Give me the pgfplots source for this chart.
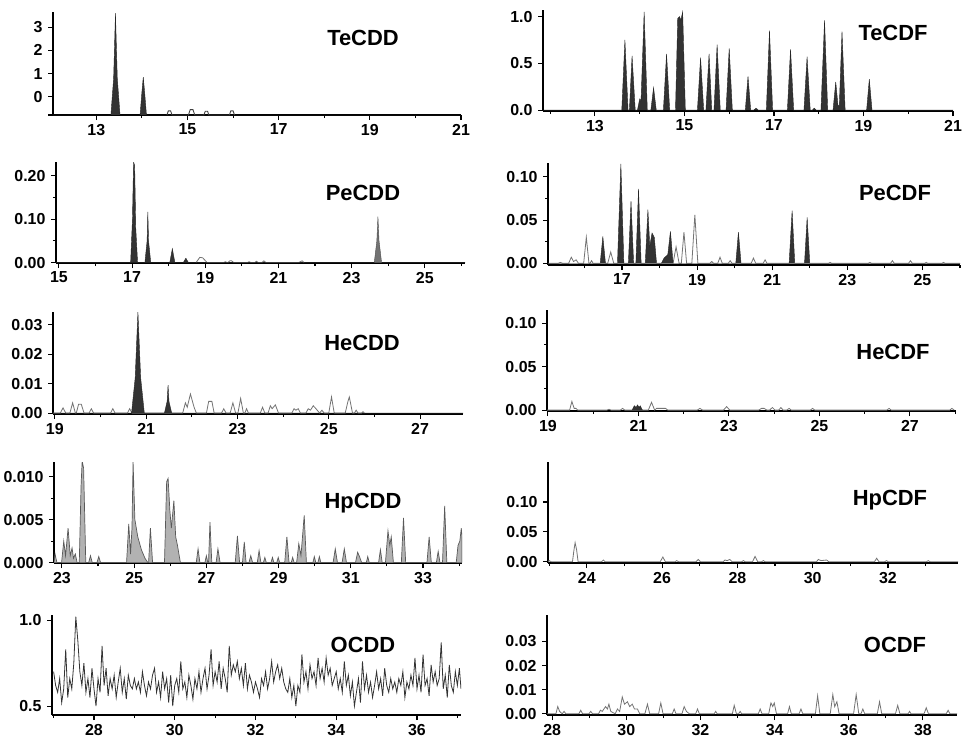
\documentclass[border=0pt]{standalone}
\usepackage{fontspec}
\setmainfont{Liberation Sans}
\usepackage{pgfplots}
\pgfplotsset{compat=1.18}

\pgfplotsset{
  panel/.style={
    scale only axis, anchor=south west,
    axis x line*=bottom, axis y line*=left,
    axis line style={line width=1.3bp, -},
    tick align=outside,
    major tick length=5bp, minor tick length=3bp,
    every tick/.style={line width=1.1bp, black},
    tick label style={font=\fontsize{16}{16}\selectfont\bfseries},
    xticklabel style={yshift=-0.5bp},
    yticklabel style={xshift=-2bp},
    scaled y ticks=false, scaled x ticks=false,
    clip=true,
  },
  dk/.style={draw=black!85, fill=black!80, line width=0.4bp},
  gr/.style={draw=black!55, line width=0.8bp},
}
\tikzset{ttl/.style={font=\fontsize{22}{22}\selectfont\bfseries}}

\begin{document}
\begin{tikzpicture}
\path[use as bounding box] (0,0) rectangle (963bp,-741bp);

% ---------- TeCDD ----------
\begin{axis}[panel, at={(53bp,-115bp)}, width=408bp, height=103bp,
  xmin=12.05, xmax=21, ymin=-0.78, ymax=3.65,
  xtick={13,15,17,19,21}, xticklabels={13,15,17,19,21}, minor xtick={14,16,18,20},
  ytick={-0.78,0,1,2,3}, yticklabels={,0,1,2,3}]
\addplot[dk] coordinates {(12.05,-0.78)(13.32,-0.78)(13.38,0.8)(13.42,3.6)(13.46,0.8)(13.52,-0.78)
  (13.96,-0.78)(14.0,0.2)(14.03,0.85)(14.06,0.2)(14.1,-0.78)(21,-0.78)};
\addplot[draw=black!75, line width=0.9bp] coordinates {(14.55,-0.78)(14.58,-0.6)(14.63,-0.6)(14.66,-0.78)
  (15.02,-0.78)(15.06,-0.55)(15.12,-0.55)(15.16,-0.78)(15.36,-0.78)(15.39,-0.62)(15.44,-0.62)(15.47,-0.78)
  (15.92,-0.78)(15.95,-0.6)(16.0,-0.6)(16.03,-0.78)};
\end{axis}
\node[ttl] at (363bp,-38bp) {TeCDD};

% ---------- TeCDF ----------
\begin{axis}[panel, at={(543bp,-111bp)}, width=410bp, height=101bp,
  xmin=11.84, xmax=21, ymin=-0.01, ymax=1.07,
  xtick={13,15,17,19,21}, xticklabels={13,15,17,19,21}, minor xtick={12,14,16,18,20},
  ytick={0,0.5,1}, yticklabels={0.0,0.5,1.0}]
\addplot[dk] coordinates {(11.84,0)(13.60,0)(13.67,0.75)(13.74,0)(13.77,0)(13.83,0.58)(13.9,0)(13.95,0)
  (14.0,0.12)(14.03,0.1)(14.1,1.05)(14.17,0)(14.25,0)(14.31,0.24)(14.37,0)(14.53,0)(14.6,0.6)(14.67,0)
  (14.8,0)(14.85,0.98)(14.89,1.0)(14.92,0.96)(14.96,1.05)(15.02,0)(15.29,0)(15.36,0.56)(15.43,0)
  (15.48,0)(15.55,0.6)(15.61,0)(15.66,0)(15.73,0.7)(15.8,0)(15.93,0)(16.0,0.66)(16.07,0)(16.36,0)
  (16.42,0.36)(16.48,0)(16.55,0)(16.6,0.02)(16.65,0)(16.83,0)(16.9,0.85)(16.97,0)(17.3,0)(17.37,0.65)
  (17.44,0)(17.67,0)(17.74,0.57)(17.81,0)(17.86,0)(17.9,0.02)(17.94,0)(18.05,0)(18.13,0.96)(18.2,0)
  (18.32,0)(18.38,0.3)(18.43,0.05)(18.46,0.05)(18.52,0.84)(18.59,0)(19.07,0)(19.13,0.33)(19.19,0)(21,0)};
\end{axis}
\node[ttl] at (893bp,-33bp) {TeCDF};

% ---------- PeCDD ----------
\begin{axis}[panel, at={(56bp,-263bp)}, width=409bp, height=101bp,
  xmin=14.92, xmax=26.1, ymin=-0.001, ymax=0.232,
  xtick={15,17,19,21,23,25}, xticklabels={15,17,19,21,23,25}, minor xtick={16,18,20,22,24,26},
  ytick={0,0.1,0.2}, yticklabels={0.00,0.10,0.20}, minor ytick={0.05,0.15}]
\addplot[gr] coordinates {(18.75,0)(18.85,0.012)(18.93,0.011)(19.05,0)(19.5,0)(19.55,0.002)(19.6,0)
  (19.62,0)(19.67,0.004)(19.72,0.004)(19.78,0)(20.15,0)(20.2,0.002)(20.25,0)(20.35,0)(20.4,0.003)
  (20.45,0)(20.55,0)(20.6,0.004)(20.66,0)(21.55,0)(21.6,0.002)(21.65,0.004)(21.7,0)};
\addplot[dk] coordinates {(14.92,0)(16.96,0)(17.01,0.1)(17.04,0.232)(17.07,0.224)(17.1,0.08)(17.15,0)
  (17.35,0)(17.41,0.05)(17.43,0.117)(17.45,0.05)(17.51,0)(18.03,0)(18.1,0.032)(18.17,0)
  (18.4,0)(18.47,0.01)(18.54,0)(26.1,0)};
\addplot[draw=black!70, fill=black!55, line width=0.4bp] coordinates {(23.62,0)(23.69,0.05)(23.72,0.106)(23.75,0.05)(23.82,0)};
\end{axis}
\node[ttl] at (363bp,-193bp) {PeCDD};

% ---------- PeCDF ----------
\begin{axis}[panel, at={(548bp,-265bp)}, width=412bp, height=102bp,
  xmin=15.03, xmax=26.0, ymin=-0.002, ymax=0.116,
  xtick={17,19,21,23,25}, xticklabels={17,19,21,23,25}, minor xtick={16,18,20,22,24,26},
  ytick={0,0.05,0.1}, yticklabels={0.00,0.05,0.10}, minor ytick={0.025,0.075}]
\addplot[gr] coordinates {(15.03,0)(15.3,0)(15.36,0.001)(15.42,0)(15.58,0)(15.65,0.007)(15.71,0.002)
  (15.78,0.004)(15.84,0)(15.98,0)(16.05,0.03)(16.12,0)(16.15,0)(16.19,0.003)(16.23,0)(16.62,0)
  (16.7,0.013)(16.78,0)(18.36,0)(18.44,0.019)(18.52,0)(18.58,0)(18.65,0.036)(18.72,0)(18.86,0)
  (18.94,0.056)(19.02,0)(19.34,0)(19.39,0.002)(19.44,0)(19.55,0)(19.61,0.007)(19.67,0)(19.83,0)
  (19.88,0.003)(19.93,0)(20.44,0)(20.5,0.006)(20.56,0)(20.76,0)(20.81,0.004)(20.86,0)(22.5,0)
  (22.54,0.001)(22.58,0)(23.56,0)(23.6,0.001)(23.64,0)(24.15,0)(24.2,0.003)(24.25,0)(24.63,0)
  (24.68,0.003)(24.73,0)(25.06,0)(25.1,0.001)(25.14,0)(25.52,0)(25.56,0.001)(25.6,0)(26,0)};
\addplot[dk] coordinates {(15.03,0)(16.42,0)(16.49,0.031)(16.56,0)(16.88,0)(16.97,0.115)(17.05,0)
  (17.17,0)(17.24,0.072)(17.31,0)(17.37,0)(17.44,0.086)(17.51,0)(17.62,0)(17.69,0.062)(17.74,0.02)
  (17.8,0.035)(17.86,0.03)(17.92,0)(18.05,0)(18.12,0.006)(18.17,0.008)(18.22,0.01)(18.29,0.037)
  (18.36,0)(20.03,0)(20.1,0.036)(20.17,0)(21.45,0)(21.53,0.061)(21.6,0)(21.86,0)(21.93,0.053)
  (22.0,0)(26,0)};
\end{axis}
\node[ttl] at (895bp,-193bp) {PeCDF};

% ---------- HeCDD ----------
\begin{axis}[panel, at={(53bp,-414bp)}, width=410bp, height=102bp,
  xmin=18.96, xmax=27.94, ymin=-0.0003, ymax=0.0344,
  xtick={19,21,23,25,27}, xticklabels={19,21,23,25,27}, minor xtick={20,22,24,26},
  ytick={0,0.01,0.02,0.03}, yticklabels={0.00,0.01,0.02,0.03}]
\addplot[gr] coordinates {(18.96,0)(19.12,0)(19.18,0.0018)(19.24,0)(19.33,0)(19.39,0.0035)(19.45,0)
  (19.47,0)(19.52,0.003)(19.58,0.003)(19.64,0)(19.75,0)(19.8,0.0015)(19.85,0)(20.22,0)(20.27,0.0015)
  (20.32,0)(20.59,0)(20.64,0.0015)(20.69,0)(21.8,0)(21.86,0.0035)(21.9,0.002)(21.97,0.0065)(22.05,0.002)
  (22.1,0)(22.32,0)(22.37,0.004)(22.44,0.004)(22.49,0)(22.65,0)(22.7,0.0015)(22.75,0)(22.84,0)
  (22.9,0.0035)(22.96,0)(23.01,0)(23.07,0.005)(23.13,0)(23.16,0)(23.2,0.0015)(23.24,0)(23.5,0)
  (23.55,0.002)(23.6,0)(23.67,0)(23.72,0.0025)(23.76,0.0015)(23.83,0.0028)(23.9,0)(24.19,0)
  (24.24,0.0015)(24.28,0.001)(24.33,0.0015)(24.38,0)(24.5,0)(24.55,0.0015)(24.6,0.001)(24.66,0.0025)
  (24.72,0.0015)(24.8,0)(24.85,0.001)(24.9,0)(25.0,0)(25.06,0.0055)(25.12,0)(25.36,0)(25.42,0.004)
  (25.45,0.0055)(25.52,0)(25.56,0)(25.6,0.001)(25.64,0)(25.72,0)(25.75,0.0005)(25.78,0)};
\addplot[dk] coordinates {(18.96,0)(20.68,0)(20.76,0.012)(20.82,0.0344)(20.88,0.012)(20.96,0)
  (21.4,0)(21.46,0.004)(21.48,0.0095)(21.5,0.004)(21.56,0)(27.94,0)};
\end{axis}
\node[ttl] at (362bp,-343bp) {HeCDD};

% ---------- HeCDF ----------
\begin{axis}[panel, at={(547bp,-411bp)}, width=409bp, height=101bp,
  xmin=18.98, xmax=28.02, ymin=-0.001, ymax=0.115,
  xtick={19,21,23,25,27}, xticklabels={19,21,23,25,27}, minor xtick={20,22,24,26,28},
  ytick={0,0.05,0.1}, yticklabels={0.00,0.05,0.10}, minor ytick={0.025,0.075}]
\addplot[gr] coordinates {(18.98,0)(19.48,0)(19.53,0.01)(19.58,0.002)(19.62,0.002)(19.66,0)(20.3,0)
  (20.35,0.001)(20.4,0)(20.6,0)(20.65,0.002)(20.7,0)(21.22,0)(21.29,0.009)(21.36,0)(21.4,0.002)
  (21.6,0.002)(21.65,0)(22.3,0)(22.36,0.002)(22.42,0)(22.88,0)(22.95,0.004)(23.02,0)(23.66,0)
  (23.72,0.002)(23.78,0.002)(23.84,0)(23.9,0)(23.96,0.003)(24.02,0)(24.1,0)(24.15,0.003)(24.2,0)
  (24.28,0)(24.33,0.002)(24.38,0)(24.8,0)(24.85,0.002)(24.9,0)(26.49,0)(26.54,0.002)(26.59,0)
  (27.88,0)(27.93,0.002)(27.98,0)};
\addplot[dk] coordinates {(20.86,0)(20.91,0.005)(20.95,0.003)(20.98,0.006)(21.02,0.003)(21.04,0.005)(21.09,0)};
\end{axis}
\node[ttl] at (893bp,-352bp) {HeCDF};

% ---------- HpCDD ----------
\begin{axis}[panel, at={(54bp,-563bp)}, width=408bp, height=101bp,
  xmin=22.78, xmax=34.08, ymin=-0.00005, ymax=0.0117,
  xtick={23,25,27,29,31,33}, xticklabels={23,25,27,29,31,33}, minor xtick={24,26,28,30,32,34},
  ytick={0,0.005,0.01}, yticklabels={0.000,0.005,0.010}, minor ytick={0.0025,0.0075}]
\addplot[draw=black!65, fill=black!30, line width=0.7bp] coordinates {(22.78,0)(22.81,0.001)(22.86,0)
  (22.99,0)(23.05,0.0025)(23.1,0.0008)(23.17,0.004)(23.23,0.0008)(23.28,0.0017)(23.32,0.0005)
  (23.37,0.001)(23.42,0)(23.48,0)(23.53,0.009)(23.56,0.0118)(23.6,0.011)(23.66,0)(23.74,0)
  (23.79,0.0008)(23.84,0)(23.97,0)(24.02,0.0007)(24.07,0)(24.79,0)(24.85,0.0045)(24.9,0.001)
  (24.94,0.004)(24.97,0.0117)(25.02,0.005)(25.1,0.003)(25.2,0.0015)(25.3,0.0005)(25.38,0)(25.4,0)
  (25.45,0.004)(25.51,0)(25.84,0)(25.9,0.0094)(25.94,0.0098)(25.99,0.006)(26.03,0.004)(26.1,0.0072)
  (26.15,0.003)(26.2,0.002)(26.28,0)(26.72,0)(26.77,0.0016)(26.82,0)(26.96,0)(27.0,0.0008)(27.04,0)
  (27.06,0)(27.1,0.0047)(27.15,0)(27.27,0)(27.32,0.0016)(27.38,0)(27.8,0)(27.86,0.0031)(27.92,0)
  (28.0,0)(28.05,0.0024)(28.1,0)(28.18,0)(28.23,0.0008)(28.28,0)(28.41,0)(28.46,0.0014)(28.51,0)
  (28.58,0)(28.62,0.0006)(28.66,0)(28.79,0)(28.83,0.0006)(28.87,0)(28.95,0)(28.99,0.0006)(29.03,0)
  (29.17,0)(29.23,0.003)(29.29,0)(29.35,0)(29.39,0.0006)(29.43,0)(29.5,0)(29.56,0.0022)(29.62,0.0008)
  (29.71,0.0055)(29.77,0)(29.95,0)(29.99,0.0007)(30.03,0)(30.09,0)(30.13,0.0007)(30.17,0)(30.51,0)
  (30.57,0.0016)(30.63,0)(30.76,0)(30.82,0.0016)(30.88,0)(31.13,0)(31.19,0.0012)(31.25,0.0006)
  (31.3,0)(31.43,0)(31.47,0.0007)(31.51,0)(31.77,0)(31.82,0.0015)(31.87,0)(31.96,0)(32.03,0.0037)
  (32.08,0.002)(32.12,0.003)(32.18,0)(32.4,0)(32.46,0.0052)(32.52,0)(33.11,0)(33.17,0.003)(33.23,0)
  (33.37,0)(33.42,0.0013)(33.47,0)(33.54,0)(33.6,0.0066)(33.66,0)(33.92,0)(33.97,0.002)(34.02,0.0025)
  (34.06,0.004)(34.08,0.003)(34.08,0)};
\end{axis}
\node[ttl] at (363bp,-503bp) {HpCDD};

% ---------- HpCDF ----------
\begin{axis}[panel, at={(548bp,-563bp)}, width=410bp, height=101bp,
  xmin=22.97, xmax=33.86, ymin=-0.002, ymax=0.167,
  xtick={24,26,28,30,32}, xticklabels={24,26,28,30,32}, minor xtick={23,25,27,29,31,33},
  ytick={0,0.05,0.1}, yticklabels={0.00,0.05,0.10}]
\addplot[gr] coordinates {(22.97,0)(23.0,0.002)(23.06,0)(23.62,0)(23.66,0.02)(23.69,0.032)(23.73,0.02)
  (23.77,0)(24.39,0)(24.44,0.003)(24.49,0)(25.95,0)(26.02,0.008)(26.09,0)(26.34,0)(26.39,0.002)
  (26.44,0)(26.9,0)(26.96,0.004)(27.02,0)(27.62,0)(27.67,0.003)(27.73,0.002)(27.8,0.004)(27.86,0)
  (28.11,0)(28.16,0.002)(28.21,0)(28.4,0)(28.47,0.009)(28.54,0)(28.64,0)(28.69,0.002)(28.74,0)
  (30.1,0)(30.15,0.004)(30.22,0.002)(30.37,0.003)(30.43,0)(31.64,0)(31.7,0.006)(31.76,0)(31.91,0)
  (31.96,0.002)(32.01,0)(33.02,0)(33.07,0.002)(33.12,0)(33.86,0)};
\end{axis}
\node[ttl] at (890bp,-500bp) {HpCDF};

% ---------- OCDD ----------
\begin{axis}[panel, at={(52bp,-715bp)}, width=409bp, height=100bp,
  xmin=26.96, xmax=37.09, ymin=0.448, ymax=1.03,
  xtick={28,30,32,34,36}, xticklabels={28,30,32,34,36}, minor xtick={27,29,31,33,35,37},
  ytick={0.5,1}, yticklabels={0.5,1.0}]
\addplot[draw=black!80, line width=0.8bp] table[row sep=\\] {
x y\\
27.00 0.70\\ 27.05 0.62\\ 27.10 0.58\\ 27.15 0.66\\ 27.20 0.52\\ 27.25 0.60\\ 27.30 0.83\\ 27.35 0.55\\ 27.40 0.66\\ 27.45 0.60\\
27.50 0.75\\ 27.55 1.02\\ 27.60 0.88\\ 27.65 0.70\\ 27.70 0.62\\ 27.75 0.75\\ 27.80 0.58\\ 27.85 0.66\\ 27.90 0.55\\ 27.95 0.72\\
28.00 0.60\\ 28.05 0.50\\ 28.10 0.66\\ 28.15 0.58\\ 28.20 0.85\\ 28.25 0.62\\ 28.30 0.72\\ 28.35 0.56\\ 28.40 0.66\\ 28.45 0.60\\
28.50 0.68\\ 28.55 0.55\\ 28.60 0.64\\ 28.65 0.72\\ 28.70 0.58\\ 28.75 0.66\\ 28.80 0.54\\ 28.85 0.68\\ 28.90 0.62\\ 28.95 0.60\\
29.00 0.66\\ 29.05 0.60\\ 29.10 0.64\\ 29.15 0.58\\ 29.20 0.70\\ 29.25 0.62\\ 29.30 0.56\\ 29.35 0.64\\ 29.40 0.60\\ 29.45 0.68\\
29.50 0.72\\ 29.55 0.58\\ 29.60 0.64\\ 29.65 0.55\\ 29.70 0.70\\ 29.75 0.60\\ 29.80 0.66\\ 29.85 0.52\\ 29.90 0.68\\ 29.95 0.50\\
30.00 0.62\\ 30.05 0.66\\ 30.10 0.58\\ 30.15 0.76\\ 30.20 0.60\\ 30.25 0.64\\ 30.30 0.55\\ 30.35 0.68\\ 30.40 0.62\\ 30.45 0.54\\
30.50 0.66\\ 30.55 0.60\\ 30.60 0.70\\ 30.65 0.58\\ 30.70 0.66\\ 30.75 0.72\\ 30.80 0.60\\ 30.85 0.68\\ 30.90 0.83\\ 30.95 0.62\\
31.00 0.70\\ 31.05 0.64\\ 31.10 0.76\\ 31.15 0.60\\ 31.20 0.72\\ 31.25 0.66\\ 31.30 0.58\\ 31.35 0.85\\ 31.40 0.68\\ 31.45 0.74\\
31.50 0.70\\ 31.55 0.76\\ 31.60 0.66\\ 31.65 0.72\\ 31.70 0.62\\ 31.75 0.75\\ 31.80 0.60\\ 31.85 0.68\\ 31.90 0.64\\ 31.95 0.58\\
32.00 0.64\\ 32.05 0.60\\ 32.10 0.55\\ 32.15 0.66\\ 32.20 0.62\\ 32.25 0.70\\ 32.30 0.60\\ 32.35 0.66\\ 32.40 0.76\\ 32.45 0.64\\
32.50 0.70\\ 32.55 0.74\\ 32.60 0.66\\ 32.65 0.72\\ 32.70 0.64\\ 32.75 0.60\\ 32.80 0.58\\ 32.85 0.66\\ 32.90 0.55\\ 32.95 0.62\\
33.00 0.50\\ 33.05 0.62\\ 33.10 0.58\\ 33.15 0.80\\ 33.20 0.64\\ 33.25 0.70\\ 33.30 0.60\\ 33.35 0.74\\ 33.40 0.66\\ 33.45 0.70\\
33.50 0.62\\ 33.55 0.78\\ 33.60 0.66\\ 33.65 0.72\\ 33.70 0.64\\ 33.75 0.78\\ 33.80 0.68\\ 33.85 0.72\\ 33.90 0.62\\ 33.95 0.66\\
34.00 0.70\\ 34.05 0.60\\ 34.10 0.66\\ 34.15 0.58\\ 34.20 0.76\\ 34.25 0.62\\ 34.30 0.68\\ 34.35 0.56\\ 34.40 0.64\\ 34.45 0.50\\
34.50 0.58\\ 34.55 0.66\\ 34.60 0.52\\ 34.65 0.76\\ 34.70 0.60\\ 34.75 0.68\\ 34.80 0.58\\ 34.85 0.64\\ 34.90 0.55\\ 34.95 0.62\\
35.00 0.70\\ 35.05 0.60\\ 35.10 0.66\\ 35.15 0.56\\ 35.20 0.72\\ 35.25 0.62\\ 35.30 0.58\\ 35.35 0.66\\ 35.40 0.60\\ 35.45 0.64\\
35.50 0.58\\ 35.55 0.66\\ 35.60 0.62\\ 35.65 0.70\\ 35.70 0.55\\ 35.75 0.64\\ 35.80 0.60\\ 35.85 0.68\\ 35.90 0.62\\ 35.95 0.78\\
36.00 0.60\\ 36.05 0.68\\ 36.10 0.58\\ 36.15 0.80\\ 36.20 0.62\\ 36.25 0.66\\ 36.30 0.56\\ 36.35 0.74\\ 36.40 0.64\\ 36.45 0.70\\
36.50 0.62\\ 36.55 0.66\\ 36.60 0.87\\ 36.65 0.60\\ 36.70 0.68\\ 36.75 0.55\\ 36.80 0.74\\ 36.85 0.62\\ 36.90 0.58\\ 36.95 0.70\\
37.00 0.62\\ 37.05 0.72\\ 37.09 0.60\\
};
\end{axis}
\node[ttl] at (363bp,-645bp) {OCDD};

% ---------- OCDF ----------
\begin{axis}[panel, at={(547bp,-715bp)}, width=410bp, height=100bp,
  xmin=27.86, xmax=38.92, ymin=-0.0005, ymax=0.041,
  xtick={28,30,32,34,36,38}, xticklabels={28,30,32,34,36,38}, minor xtick={29,31,33,35,37},
  ytick={0,0.01,0.02,0.03}, yticklabels={0.00,0.01,0.02,0.03}]
\addplot[gr] coordinates {(27.86,0)(28.1,0)(28.15,0.003)(28.2,0.001)(28.27,0)(28.32,0.001)(28.37,0)
  (28.72,0)(28.77,0.0015)(28.82,0)(28.99,0)(29.04,0.001)(29.09,0)(29.25,0)(29.3,0.0015)(29.35,0.001)
  (29.44,0.003)(29.49,0.002)(29.53,0.004)(29.58,0.001)(29.7,0)(29.76,0.002)(29.82,0.001)(29.89,0.007)
  (29.95,0.004)(30.03,0.005)(30.09,0.003)(30.16,0.004)(30.22,0.002)(30.3,0.002)(30.36,0)(30.5,0)
  (30.57,0.004)(30.63,0)(30.87,0)(30.93,0.0045)(30.99,0)(31.24,0)(31.29,0.002)(31.34,0)(31.5,0)
  (31.56,0.003)(31.62,0.001)(31.7,0)(31.87,0)(31.92,0.002)(31.97,0)(32.37,0)(32.41,0.001)(32.45,0)
  (32.86,0)(32.91,0.0035)(32.97,0)(33.03,0)(33.07,0.001)(33.11,0)(33.56,0)(33.61,0.002)(33.66,0)
  (33.84,0)(33.9,0.0045)(33.95,0.003)(33.99,0.0045)(34.05,0)(34.35,0)(34.4,0.003)(34.45,0)(34.66,0)
  (34.71,0.002)(34.76,0)(35.1,0)(35.16,0.0075)(35.22,0)(35.5,0)(35.57,0.008)(35.62,0.003)(35.68,0.005)
  (35.74,0)(36.13,0)(36.2,0.008)(36.27,0)(36.33,0)(36.38,0.002)(36.43,0)(36.77,0)(36.83,0.005)
  (36.89,0)(37.26,0)(37.32,0.0035)(37.38,0)(37.6,0)(37.64,0.001)(37.68,0)(38.03,0)(38.09,0.0025)
  (38.15,0)(38.63,0)(38.68,0.0015)(38.73,0)(38.92,0)};
\end{axis}
\node[ttl] at (895bp,-645bp) {OCDF};

\end{tikzpicture}
\end{document}
